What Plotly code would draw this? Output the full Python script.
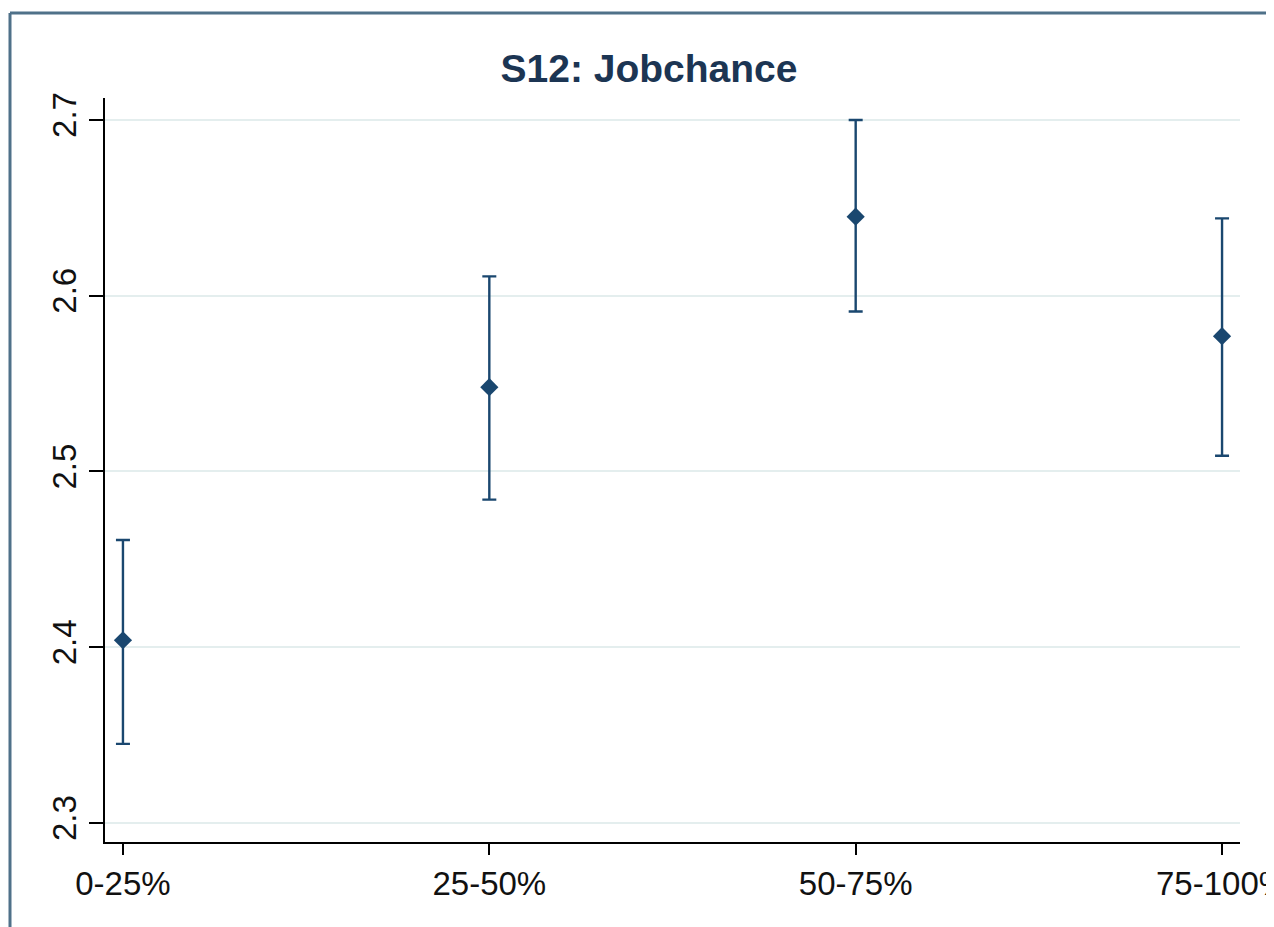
import plotly.graph_objects as go

categories = ["0-25%", "25-50%", "50-75%", "75-100%"]
means = [2.404, 2.548, 2.645, 2.577]
upper = [2.461, 2.611, 2.700, 2.644]
lower = [2.345, 2.484, 2.591, 2.509]
y_ticks = [2.3, 2.4, 2.5, 2.6, 2.7]

# the page puts the figure 8px in from the top-left corner, so sizes are in figure pixels
W, H = 1266, 919
L, R, T, B = 97, 1232, 90, 834  # plot area in pixels


def px(x):
    return (x - L) / (R - L)


def py(y):
    return (B - y) / (B - T)


navy = "#1a476f"
fig = go.Figure()
fig.add_trace(go.Scatter(
    x=categories, y=means, mode="markers",
    marker=dict(symbol="diamond", size=14, color=navy),
    error_y=dict(type="data", symmetric=False,
                 array=[u - m for u, m in zip(upper, means)],
                 arrayminus=[m - l for m, l in zip(means, lower)],
                 color=navy, thickness=2.4, width=7),
    showlegend=False,
))

font = "Liberation Sans, Arial, sans-serif"
fig.update_layout(
    width=W, height=H,
    margin=dict(l=L, r=W - R, t=T, b=H - B, autoexpand=False),
    paper_bgcolor="white", plot_bgcolor="white",
    font=dict(family=font, size=33, color="#111111"),
    title=dict(text="<b>S12: Jobchance</b>", x=641 / W, xref="container", xanchor="center",
               y=1 - 60 / H, yref="container", yanchor="middle",
               font=dict(size=39, color="#1c3553", family=font)),
    xaxis=dict(type="category", range=[-0.049, 3.049], showgrid=False, zeroline=False,
               showline=True, linecolor="black", linewidth=2,
               ticks="outside", ticklen=11, tickwidth=2, tickcolor="black"),
    yaxis=dict(range=[2.2892, 2.7125], tickvals=y_ticks, tickformat=".1f", tickangle=-90,
               showgrid=True, gridcolor="#e4eeee", gridwidth=2, zeroline=False,
               showline=True, linecolor="black", linewidth=2,
               ticks="outside", ticklen=14, tickwidth=2, tickcolor="black"),
    shapes=[
        dict(type="line", xref="paper", yref="paper", x0=px(2), x1=px(2), y0=py(5), y1=py(930),
             line=dict(color="#4f7189", width=3)),
        dict(type="line", xref="paper", yref="paper", x0=px(2), x1=px(1270), y0=py(5), y1=py(5),
             line=dict(color="#4f7189", width=3)),
        dict(type="line", xref="paper", yref="paper", x0=px(1264), x1=px(1264), y0=py(5), y1=py(930),
             line=dict(color="#d4dadd", width=2)),
    ],
)

fig.write_html("out.html")
